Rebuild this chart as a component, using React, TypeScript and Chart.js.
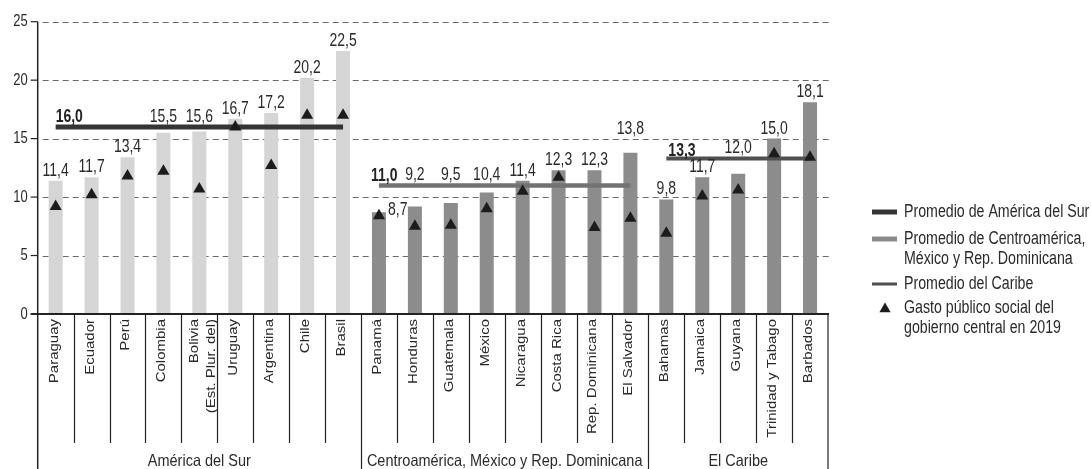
import { useEffect, useRef } from 'react';
import { Chart, registerables } from 'chart.js';

Chart.register(...registerables);

// ---- data ----
const categories: (string | string[])[] = [
  'Paraguay', 'Ecuador', 'Perú', 'Colombia', ['Bolivia', '(Est. Plur. del)'], 'Uruguay', 'Argentina', 'Chile', 'Brasil',
  'Panamá', 'Honduras', 'Guatemala', 'México', 'Nicaragua', 'Costa Rica', 'Rep. Dominicana', 'El Salvador',
  'Bahamas', 'Jamaica', 'Guyana', 'Trinidad y Tabago', 'Barbados',
];
const gasto2020 = [11.4, 11.7, 13.4, 15.5, 15.6, 16.7, 17.2, 20.2, 22.5, 8.7, 9.2, 9.5, 10.4, 11.4, 12.3, 12.3, 13.8, 9.8, 11.7, 12.0, 15.0, 18.1];
const gasto2019 = [9.2, 10.2, 11.8, 12.2, 10.7, 16.0, 12.7, 17.0, 17.0, 8.4, 7.5, 7.6, 9.0, 10.5, 11.7, 7.4, 8.2, 6.9, 10.1, 10.6, 13.7, 13.4];
const groupNames = ['América del Sur', 'Centroamérica, México y Rep. Dominicana', 'El Caribe'];
const groupSizes = [9, 8, 5];
const groupAverages = [16.0, 11.0, 13.3];
const yTicks = [0, 5, 10, 15, 20, 25];
const legendLabels = [
  ['Promedio de América del Sur'],
  ['Promedio de Centroamérica,', 'México y Rep. Dominicana'],
  ['Promedio del Caribe'],
  ['Gasto público social del', 'gobierno central en 2019'],
];

// ---- styling ----
const FONT = '"Liberation Sans", Arial, sans-serif';
const INK = '#2a2a2a';
const barColors = ['#d5d5d5', '#8c8c8c', '#8c8c8c'];
const avgColors = ['#353535', '#727272', '#4f4f4f'];
const avgWidths = [5, 4.5, 4];
const legendSwatch = [
  { color: '#353535', width: 5 },
  { color: '#8a8a8a', width: 5 },
  { color: '#4f4f4f', width: 3 },
];
const legendRows = [212, 239, 284, 308];
const avgLabelShift = [0, -8, 2];
const avgLabelLift = [5, 4.5, 2.5];
// where each value label sits: on the bar, above the group line, beside the bar, or raised
const labelPlacement = [
  'top', 'top', 'top', 'line', 'line', 'top', 'top', 'top', 'top',
  'side', 'line', 'line', 'line', 'top', 'top', 'top', 'raised',
  'top', 'top', 'line', 'top', 'top',
];

const groupOf: number[] = groupSizes.flatMap((n, g) => Array(n).fill(g));
const groupStart: number[] = groupSizes.map((_, g) => groupSizes.slice(0, g).reduce((a, b) => a + b, 0));
const fmt = (v: number) => v.toFixed(1).replace('.', ',');

function tallText(
  ctx: CanvasRenderingContext2D,
  text: string,
  x: number,
  y: number,
  size: number,
  stretch: number,
  opts: { align?: CanvasTextAlign; baseline?: CanvasTextBaseline; bold?: boolean; rotate?: boolean; color?: string } = {},
) {
  ctx.save();
  ctx.translate(x, y);
  ctx.scale(1, stretch);
  if (opts.rotate) ctx.rotate(-Math.PI / 2);
  ctx.font = `${opts.bold ? 'bold ' : ''}${size}px ${FONT}`;
  ctx.textAlign = opts.align || 'left';
  ctx.textBaseline = opts.baseline || 'alphabetic';
  ctx.fillStyle = opts.color || INK;
  ctx.fillText(text, 0, 0);
  ctx.restore();
}

const W = 1091;
const H = 469;

const framePlugin = {
  id: 'frame',
  beforeDatasetsDraw(chart: any) {
    const { ctx, chartArea: a, scales } = chart;
    const y = scales.y;
    ctx.save();
    // dashed horizontal gridlines
    ctx.strokeStyle = '#6a6a6a';
    ctx.lineWidth = 1;
    ctx.setLineDash([6, 4]);
    yTicks.filter((t) => t > 0).forEach((t) => {
      const py = Math.round(y.getPixelForValue(t)) + 0.5;
      ctx.beginPath();
      ctx.moveTo(a.left + 5, py);
      ctx.lineTo(a.right + 2, py);
      ctx.stroke();
    });
    ctx.setLineDash([]);
    ctx.restore();
  },
  afterDatasetsDraw(chart: any) {
    const { ctx, chartArea: a, scales } = chart;
    const x = scales.x;
    const y = scales.y;
    const y0 = y.getPixelForValue(0);
    const step = (a.right - a.left) / categories.length;
    ctx.save();

    // tick marks and y axis
    ctx.strokeStyle = '#222';
    ctx.lineWidth = 1.2;
    yTicks.forEach((t) => {
      const py = y.getPixelForValue(t);
      ctx.beginPath();
      ctx.moveTo(a.left - 7, py);
      ctx.lineTo(a.left, py);
      ctx.stroke();
      tallText(ctx, String(t), a.left - 10, py, 13, 1.3, { align: 'right', baseline: 'middle' });
    });
    ctx.lineWidth = 1.5;
    ctx.beginPath();
    ctx.moveTo(a.left, y.getPixelForValue(25));
    ctx.lineTo(a.left, H);
    ctx.stroke();

    // x axis line
    ctx.lineWidth = 2;
    ctx.beginPath();
    ctx.moveTo(a.left - 7, y0);
    ctx.lineTo(a.right + 1, y0);
    ctx.stroke();

    // category and group separators
    ctx.lineWidth = 1.2;
    for (let i = 1; i < categories.length; i++) {
      const sx = Math.round(a.left + i * step) + 0.5;
      const isGroupEdge = groupStart.includes(i);
      ctx.beginPath();
      ctx.moveTo(sx, y0);
      ctx.lineTo(sx, isGroupEdge ? H : 443);
      ctx.stroke();
    }
    ctx.beginPath();
    ctx.moveTo(a.right, y0);
    ctx.lineTo(a.right, H);
    ctx.stroke();

    // category labels, rotated
    categories.forEach((c, i) => {
      const cx = x.getPixelForValue(i);
      const lines = Array.isArray(c) ? c : [c];
      lines.forEach((ln, j) => {
        const lx = lines.length > 1 ? cx - 5 + j * 17.5 : cx - 1.5;
        tallText(ctx, ln, lx, 319, 12.5, 1.2, { align: 'right', baseline: 'middle', rotate: true });
      });
    });

    // group labels
    groupNames.forEach((g, k) => {
      const left = a.left + groupStart[k] * step;
      const right = left + groupSizes[k] * step;
      tallText(ctx, g, (left + right) / 2, 466, 14.5, 1.15, { align: 'center' });
    });

    // value labels on bars
    const bars = chart.getDatasetMeta(0).data;
    gasto2020.forEach((v, i) => {
      const el = bars[i];
      const g = groupOf[i];
      const avgY = y.getPixelForValue(groupAverages[g]);
      const mode = labelPlacement[i];
      const txt = fmt(v);
      if (mode === 'side') {
        tallText(ctx, txt, el.x + el.width / 2 + 2, el.y + 3, 14, 1.3);
        return;
      }
      let by = el.y - 5;
      if (mode === 'line') by = avgY - 5;
      if (mode === 'raised') by = el.y - 19;
      tallText(ctx, txt, el.x, by, 14, 1.3, { align: 'center' });
    });

    // group average labels
    groupAverages.forEach((v, k) => {
      const fx = x.getPixelForValue(groupStart[k]);
      const py = y.getPixelForValue(v);
      tallText(ctx, fmt(v), fx + avgLabelShift[k], py - avgLabelLift[k], 14, 1.3, { bold: true, color: '#222' });
    });

    // legend
    const lx0 = 872;
    const lx1 = 897;
    const tx = 904;
    legendLabels.forEach((lines, k) => {
      const ly = legendRows[k];
      if (k < legendSwatch.length) {
        ctx.strokeStyle = legendSwatch[k].color;
        ctx.lineWidth = legendSwatch[k].width;
        ctx.beginPath();
        ctx.moveTo(lx0, ly);
        ctx.lineTo(lx1, ly);
        ctx.stroke();
      } else {
        const r = 6.5;
        const cx = 885;
        const cy = ly + 1;
        ctx.fillStyle = '#1c1c1c';
        ctx.beginPath();
        ctx.moveTo(cx, cy - r);
        ctx.lineTo(cx + r * 0.866, cy + r / 2);
        ctx.lineTo(cx - r * 0.866, cy + r / 2);
        ctx.closePath();
        ctx.fill();
      }
      lines.forEach((ln, j) => {
        tallText(ctx, ln, tx, ly + j * 20, 14.2, 1.3, { baseline: 'middle' });
      });
    });

    ctx.restore();
  },
};

export default function App() {
  const canvasRef = useRef<HTMLCanvasElement | null>(null);

  useEffect(() => {
    const canvas = canvasRef.current;
    if (!canvas) return;

    const avgDatasets = groupAverages.map((avg, k) => ({
      type: 'line' as const,
      label: groupNames[k],
      data: categories.map((_, i) => (groupOf[i] === k ? avg : null)),
      borderColor: avgColors[k],
      borderWidth: avgWidths[k],
      pointRadius: 0,
      spanGaps: false,
      order: 2,
    }));

    const chart = new Chart(canvas, {
      type: 'bar',
      data: {
        labels: categories,
        datasets: [
          {
            type: 'bar',
            label: 'Gasto público social',
            data: gasto2020,
            backgroundColor: gasto2020.map((_, i) => barColors[groupOf[i]]),
            borderWidth: 0,
            categoryPercentage: 1,
            barPercentage: 0.39,
            order: 3,
          },
          ...avgDatasets,
          {
            type: 'line',
            label: 'Gasto público social del gobierno central en 2019',
            data: gasto2019,
            showLine: false,
            pointStyle: 'triangle',
            pointRadius: 7,
            pointBackgroundColor: '#1c1c1c',
            pointBorderWidth: 0,
            order: 1,
          },
        ] as any,
      },
      options: {
        responsive: false,
        maintainAspectRatio: false,
        animation: false,
        devicePixelRatio: 1,
        layout: { padding: { left: 37.7, right: W - 828, top: 21.7, bottom: H - 314 } },
        scales: {
          x: { display: false, offset: true },
          y: { display: false, min: 0, max: 25 },
        },
        plugins: {
          legend: { display: false },
          tooltip: { enabled: false },
        },
      },
      plugins: [framePlugin],
    });

    return () => chart.destroy();
  }, []);

  return (
    <div style={{ position: 'fixed', left: 0, top: 0, width: W, height: H, background: '#fff' }}>
      <canvas ref={canvasRef} width={W} height={H} style={{ display: 'block' }} />
    </div>
  );
}
